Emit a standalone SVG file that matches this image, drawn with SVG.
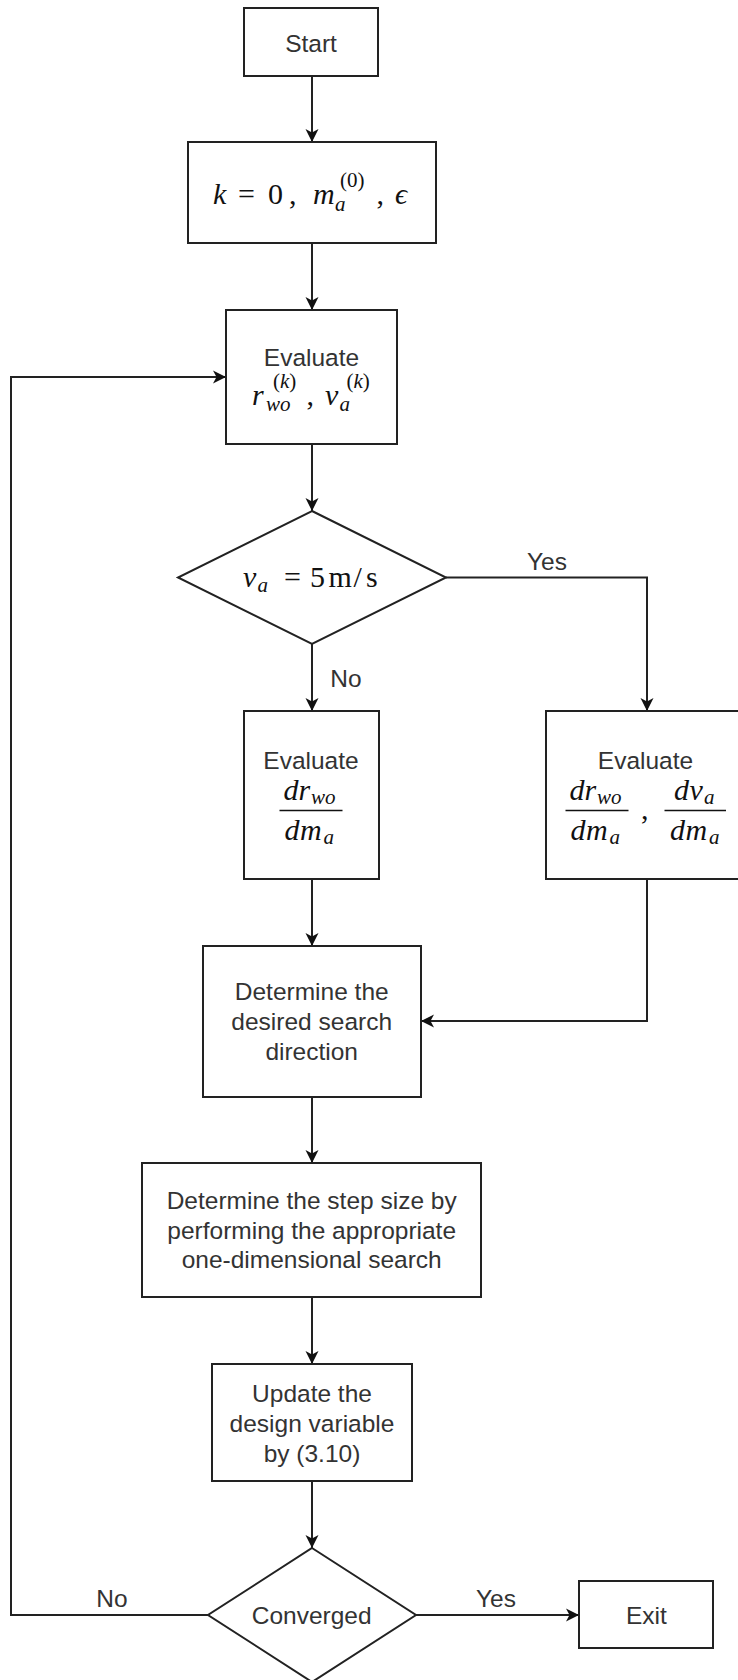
<svg xmlns="http://www.w3.org/2000/svg" width="738" height="1680" viewBox="0 0 738 1680">
<style>
.box{fill:#fff;stroke:#222;stroke-width:2}
.t{font-family:"Liberation Sans",Arial,sans-serif;font-size:24.5px;fill:#333;text-anchor:middle}
.m{font-family:"Liberation Serif","Times New Roman","DejaVu Serif",serif;font-size:30px;fill:#111}
.i{font-style:italic}
.s{font-size:21px}
.bar{stroke:#111;stroke-width:1.6}
</style>
<defs>
<marker id="arr" markerUnits="userSpaceOnUse" markerWidth="16" markerHeight="16" viewBox="-14 -8 16 16" refX="0" refY="0" orient="auto">
<path d="M0,0 L-13,-6.5 L-9.5,0 L-13,6.5 Z" fill="#111"/>
</marker>
</defs>
<rect width="738" height="1680" fill="#fff"/>
<g id="connectors" fill="none" stroke="#222" stroke-width="2">
<path d="M312,76 V142" marker-end="url(#arr)"/>
<path d="M312,243 V310" marker-end="url(#arr)"/>
<path d="M312,444 V511" marker-end="url(#arr)"/>
<path d="M312,644 V711" marker-end="url(#arr)"/>
<path d="M446,577.5 H647 V711" marker-end="url(#arr)"/>
<path d="M312,879 V946" marker-end="url(#arr)"/>
<path d="M647,879 V1021 H421" marker-end="url(#arr)"/>
<path d="M312,1097 V1163" marker-end="url(#arr)"/>
<path d="M312,1297 V1364" marker-end="url(#arr)"/>
<path d="M312,1481 V1548" marker-end="url(#arr)"/>
<path d="M208,1615 H11 V377 H226" marker-end="url(#arr)"/>
<path d="M416,1615 H579" marker-end="url(#arr)"/>
</g>
<g id="labels">
<text class="t" x="346" y="687">No</text>
<text class="t" x="547" y="570">Yes</text>
<text class="t" x="112" y="1607">No</text>
<text class="t" x="496" y="1607">Yes</text>
</g>
<g id="start">
<rect class="box" x="244" y="8" width="134" height="68"/>
<text class="t" x="311" y="51.5">Start</text>
</g>
<g id="init">
<rect class="box" x="188" y="142" width="248" height="101"/>
<text class="m"><tspan class="i" x="213" y="204">k</tspan><tspan x="238" y="204">=</tspan><tspan x="268" y="204">0</tspan><tspan x="289" y="204">,</tspan><tspan class="i" x="313" y="204">m</tspan><tspan class="i s" x="335" y="210.5">a</tspan><tspan class="s" x="340" y="187">(0)</tspan><tspan x="376.5" y="204">,</tspan><tspan class="i" x="395" y="204">ϵ</tspan></text>
</g>
<g id="eval1">
<rect class="box" x="226" y="310" width="171" height="134"/>
<text class="t" x="311.5" y="366">Evaluate</text>
<text class="m"><tspan class="i" x="252" y="405">r</tspan><tspan class="i s" x="266" y="411">wo</tspan><tspan class="s" x="273" y="387.5">(</tspan><tspan class="s i">k</tspan><tspan class="s">)</tspan><tspan x="306.5" y="405">,</tspan><tspan class="i" x="325" y="405">v</tspan><tspan class="i s" x="339.5" y="411">a</tspan><tspan class="s" x="346.5" y="387.5">(</tspan><tspan class="s i">k</tspan><tspan class="s">)</tspan></text>
</g>
<g id="decision1">
<polygon class="box" points="312,511 446,577.5 312,644 178,577.5"/>
<text class="m"><tspan class="i" x="243" y="587">v</tspan><tspan class="i s" x="257.5" y="592">a</tspan><tspan x="284" y="587">=</tspan><tspan x="310" y="587">5</tspan><tspan x="328.5" y="587">m</tspan><tspan x="353.5" y="587">/</tspan><tspan x="366" y="587">s</tspan></text>
</g>
<g id="eval2">
<rect class="box" x="244" y="711" width="135" height="168"/>
<text class="t" x="311" y="768.5">Evaluate</text>
<text class="m"><tspan class="i" x="283.5" y="800">d</tspan><tspan class="i" x="298.5" y="800">r</tspan><tspan class="i s" x="311" y="804">wo</tspan><tspan class="i" x="284.5" y="840">d</tspan><tspan class="i" x="300" y="840">m</tspan><tspan class="i s" x="323.5" y="844">a</tspan></text>
<line class="bar" x1="279.5" y1="810.5" x2="342.5" y2="810.5"/>
</g>
<g id="eval3">
<rect class="box" x="546" y="711" width="201" height="168"/>
<text class="t" x="645.5" y="768.5">Evaluate</text>
<text class="m"><tspan class="i" x="569.5" y="800">d</tspan><tspan class="i" x="584.5" y="800">r</tspan><tspan class="i s" x="597" y="804">wo</tspan><tspan class="i" x="570.5" y="840">d</tspan><tspan class="i" x="586" y="840">m</tspan><tspan class="i s" x="609.5" y="844">a</tspan><tspan x="641" y="819">,</tspan><tspan class="i" x="674" y="800">d</tspan><tspan class="i" x="689.5" y="800">v</tspan><tspan class="i s" x="704" y="804">a</tspan><tspan class="i" x="670" y="840">d</tspan><tspan class="i" x="685.5" y="840">m</tspan><tspan class="i s" x="709" y="844">a</tspan></text>
<line class="bar" x1="565.5" y1="810.5" x2="628.5" y2="810.5"/>
<line class="bar" x1="664.5" y1="810.5" x2="726" y2="810.5"/>
</g>
<g id="direction">
<rect class="box" x="203" y="946" width="218" height="151"/>
<text class="t" x="311.7" y="1000">Determine the</text>
<text class="t" x="311.7" y="1030">desired search</text>
<text class="t" x="311.7" y="1059.5">direction</text>
</g>
<g id="stepsize">
<rect class="box" x="142" y="1163" width="339" height="134"/>
<text class="t" x="311.7" y="1209">Determine the step size by</text>
<text class="t" x="311.7" y="1238.5">performing the appropriate</text>
<text class="t" x="311.7" y="1268">one-dimensional search</text>
</g>
<g id="update">
<rect class="box" x="212" y="1364" width="200" height="117"/>
<text class="t" x="312" y="1402">Update the</text>
<text class="t" x="312" y="1431.5">design variable</text>
<text class="t" x="312" y="1461.5">by (3.10)</text>
</g>
<g id="converged">
<polygon class="box" points="312,1548 416,1615 312,1682 208,1615"/>
<text class="t" x="311.7" y="1624">Converged</text>
</g>
<g id="exit">
<rect class="box" x="579" y="1581" width="134" height="67"/>
<text class="t" x="646.3" y="1624">Exit</text>
</g>
</svg>
